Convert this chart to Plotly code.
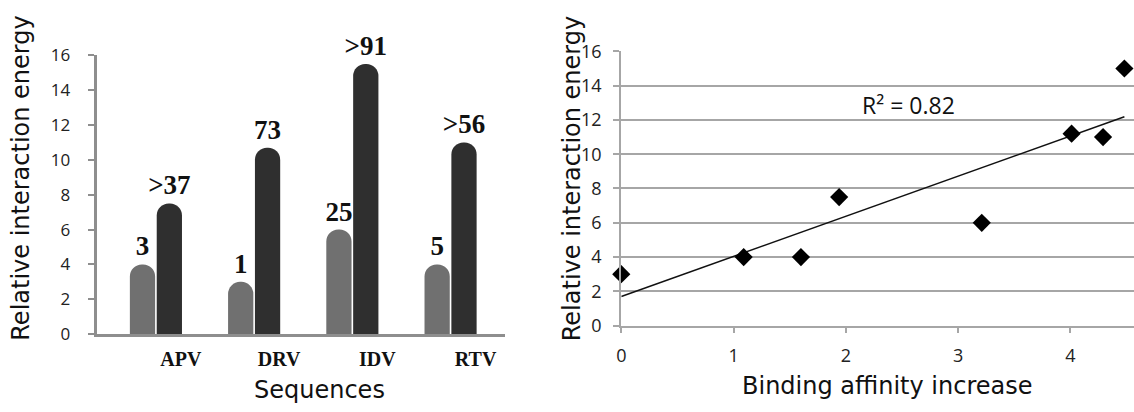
import plotly.graph_objects as go
import numpy as np

# ---------------- data ----------------
categories = ["APV", "DRV", "IDV", "RTV"]
light_values = [4.0, 3.0, 6.0, 4.0]
dark_values = [7.5, 10.7, 15.5, 11.0]
light_labels = ["3", "1", "25", "5"]
dark_labels = [">37", "73", ">91", ">56"]

affinity = [0.0, 1.09, 1.60, 1.94, 3.21, 4.01, 4.29, 4.48]
energy = [3.0, 4.0, 4.0, 7.5, 6.0, 11.2, 11.0, 15.0]
trend_intercept = 1.7
trend_slope = 2.34
r_squared = 0.82

y_ticks = [0, 2, 4, 6, 8, 10, 12, 14, 16]
x_ticks = [0, 1, 2, 3, 4]

# ---------------- layout helpers ----------------
W, H = 1134, 412
def px(x):
    return x / W
def py(y):
    return 1 - y / H

fig = go.Figure()

bar_text_font = dict(family="Liberation Serif", size=27, color="#111111", weight="bold")

fig.add_trace(go.Bar(
    x=categories, y=light_values, text=light_labels, textposition="outside",
    textfont=bar_text_font, constraintext="none", cliponaxis=False,
    marker=dict(color="#707070", cornerradius=13, line=dict(width=0)),
    xaxis="x", yaxis="y", showlegend=False, hoverinfo="skip"))
fig.add_trace(go.Bar(
    x=categories, y=dark_values, text=dark_labels, textposition="outside",
    textfont=bar_text_font, constraintext="none", cliponaxis=False,
    marker=dict(color="#2f2f2f", cornerradius=13, line=dict(width=0)),
    xaxis="x", yaxis="y", showlegend=False, hoverinfo="skip"))

# trend line
xt = np.array([0.0, max(affinity)])
fig.add_trace(go.Scatter(
    x=xt, y=trend_intercept + trend_slope * xt, mode="lines",
    line=dict(color="#111111", width=1.5),
    xaxis="x2", yaxis="y2", showlegend=False, hoverinfo="skip"))
fig.add_trace(go.Scatter(
    x=affinity, y=energy, mode="markers",
    marker=dict(symbol="diamond", size=14, color="#000000", line=dict(width=0)),
    cliponaxis=False, xaxis="x2", yaxis="y2", showlegend=False))

axis_gray = "#8e8e8e"
grid_gray = "#a6a6a6"

fig.update_layout(
    width=W, height=H,
    margin=dict(l=0, r=0, t=0, b=0),
    paper_bgcolor="white", plot_bgcolor="white",
    barmode="group", bargap=0.453, bargroupgap=0.06,
    xaxis=dict(
        domain=[px(92), px(502)], anchor="y",
        type="category", range=[-0.604, 3.552],
        showline=True, linecolor=axis_gray, linewidth=3,
        ticks="", showgrid=False, zeroline=False,
        ticklabelshift=25, ticklabelstandoff=5,
        tickfont=dict(family="Liberation Serif", size=20, color="#111111", weight="bold"),
    ),
    yaxis=dict(
        domain=[py(341), py(45)], anchor="x",
        range=[0, 16], tickvals=y_ticks,
        showline=True, linecolor=axis_gray, linewidth=3,
        ticks="outside", ticklen=6, tickwidth=2, tickcolor=axis_gray,
        showgrid=False, zeroline=False,
        ticklabelstandoff=14,
        tickfont=dict(family="Open Sans", size=17, color="#222222"),
    ),
    xaxis2=dict(
        domain=[px(619), 1.0], anchor="y2",
        range=[0, (W - 619) / 112.8], tickvals=x_ticks,
        showline=True, linecolor=grid_gray, linewidth=2,
        ticks="outside", ticklen=5, tickwidth=1.5, tickcolor=grid_gray,
        showgrid=False, zeroline=False,
        ticklabelstandoff=8,
        tickfont=dict(family="Open Sans", size=18, color="#222222"),
    ),
    yaxis2=dict(
        domain=[py(332), py(40.7)], anchor="x2",
        range=[0, 16], tickvals=y_ticks,
        showline=True, linecolor=grid_gray, linewidth=2,
        ticks="outside", ticklen=6, tickwidth=1.5, tickcolor=grid_gray,
        showgrid=True, gridcolor=grid_gray, gridwidth=1.5, zeroline=False,
        ticklabelstandoff=8,
        tickfont=dict(family="Open Sans", size=18, color="#222222"),
    ),
)

title_font = dict(family="DejaVu Sans", size=24, color="#111111")
fig.add_annotation(text="Relative interaction energy", x=px(16), y=py(175),
                   xref="paper", yref="paper", textangle=-90, showarrow=False,
                   font=title_font, xanchor="center", yanchor="middle")
fig.add_annotation(text="Relative interaction energy", x=px(569), y=py(176),
                   xref="paper", yref="paper", textangle=-90, showarrow=False,
                   font=title_font, xanchor="center", yanchor="middle")
fig.add_annotation(text="Sequences", x=px(316), y=py(400),
                   xref="paper", yref="paper", showarrow=False,
                   font=title_font, xanchor="center", yanchor="middle")
fig.add_annotation(text="Binding affinity increase", x=px(886), y=py(396),
                   xref="paper", yref="paper", showarrow=False,
                   font=title_font, xanchor="center", yanchor="middle")
fig.add_annotation(text=f"R² = {r_squared:.2f}", x=px(908), y=py(98),
                   xref="paper", yref="paper", showarrow=False,
                   font=dict(family="Open Sans", size=23, color="#111111"),
                   xanchor="center", yanchor="middle")

fig.write_html("out.html")
